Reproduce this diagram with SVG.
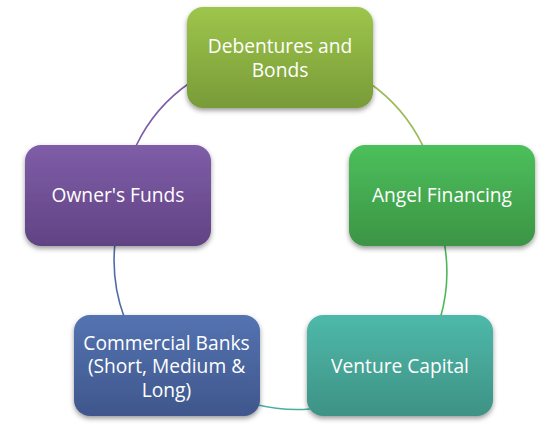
<svg xmlns="http://www.w3.org/2000/svg" width="551" height="431" viewBox="0 0 551 431">
  <style>
    .box { filter: url(#shadow); }
    .lbl { font-family: "Open Sans", "Noto Sans", "DejaVu Sans", sans-serif; font-size: 19.2px; fill: #ffffff; text-anchor: middle; }
    .conn { fill: none; stroke-width: 1.6; }
  </style>
  <defs>
    <filter id="shadow" x="-20%" y="-20%" width="140%" height="150%">
      <feDropShadow dx="0" dy="2.5" stdDeviation="2.5" flood-color="#000000" flood-opacity="0.4"/>
    </filter>
    <linearGradient id="gDeb" x1="0" y1="0" x2="0" y2="1">
      <stop offset="0" stop-color="#9EC54B"/>
      <stop offset="1" stop-color="#789B38"/>
    </linearGradient>
    <linearGradient id="gAng" x1="0" y1="0" x2="0" y2="1">
      <stop offset="0" stop-color="#4CC05B"/>
      <stop offset="1" stop-color="#3C9445"/>
    </linearGradient>
    <linearGradient id="gVen" x1="0" y1="0" x2="0" y2="1">
      <stop offset="0" stop-color="#4EB9AA"/>
      <stop offset="1" stop-color="#3E9284"/>
    </linearGradient>
    <linearGradient id="gCom" x1="0" y1="0" x2="0" y2="1">
      <stop offset="0" stop-color="#5473B1"/>
      <stop offset="1" stop-color="#3F578C"/>
    </linearGradient>
    <linearGradient id="gOwn" x1="0" y1="0" x2="0" y2="1">
      <stop offset="0" stop-color="#7F5DA8"/>
      <stop offset="1" stop-color="#614383"/>
    </linearGradient>
  </defs>

  <g id="connectors">
    <path class="conn" stroke="#9BBB59" d="M368,82 A165,165 0 0,1 423,146"/>
    <path class="conn" stroke="#4CB85A" d="M444.3,243 A165,165 0 0,1 440.3,318"/>
    <path class="conn" stroke="#4AAFA0" d="M310,409 A170,170 0 0,1 256,404.5"/>
    <path class="conn" stroke="#4F6AA8" d="M124.5,318 A165,165 0 0,1 115,243"/>
    <path class="conn" stroke="#7F5DA8" d="M136,146 A160,160 0 0,1 191,82"/>
  </g>

  <g id="node-debentures">
    <rect class="box" x="187" y="7" width="186" height="101" rx="16" fill="url(#gDeb)"/>
    <text class="lbl" x="280" y="53.3">Debentures and</text>
    <text class="lbl" x="280" y="76.8">Bonds</text>
  </g>

  <g id="node-angel">
    <rect class="box" x="349" y="145" width="186" height="101" rx="16" fill="url(#gAng)"/>
    <text class="lbl" x="442" y="201.8">Angel Financing</text>
  </g>

  <g id="node-venture">
    <rect class="box" x="307" y="315" width="186" height="101" rx="16" fill="url(#gVen)"/>
    <text class="lbl" x="400" y="372.8">Venture Capital</text>
  </g>

  <g id="node-commercial">
    <rect class="box" x="74" y="315" width="186" height="101" rx="16" fill="url(#gCom)"/>
    <text class="lbl" x="166.5" y="349.5">Commercial Banks</text>
    <text class="lbl" x="166.5" y="373">(Short, Medium &amp;</text>
    <text class="lbl" x="166.5" y="396.5">Long)</text>
  </g>

  <g id="node-owner">
    <rect class="box" x="25" y="145" width="186" height="101" rx="16" fill="url(#gOwn)"/>
    <text class="lbl" x="118" y="201.8">Owner's Funds</text>
  </g>
</svg>
